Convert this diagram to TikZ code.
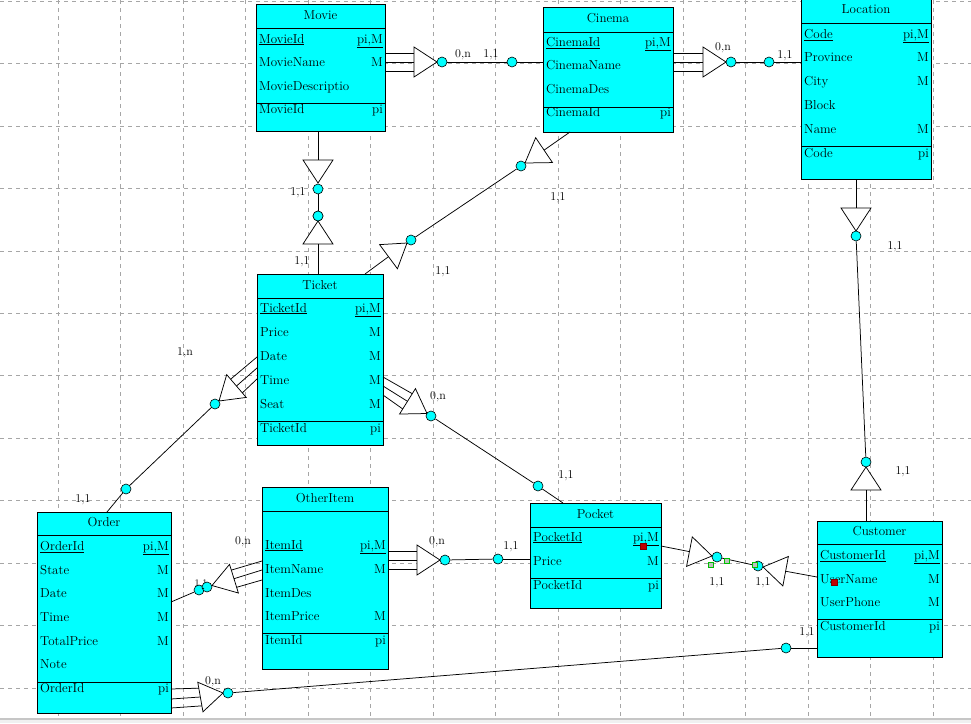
\documentclass[tikz,border=0pt]{standalone}
\usetikzlibrary{calc}
\definecolor{entcyan}{RGB}{0,255,255}
\tikzset{
 ent/.style={draw=black, fill=entcyan, line width=1pt, inner sep=0pt, outer sep=0pt, rectangle},
 atxt/.style={font=\fontsize{13}{15}\selectfont, inner sep=0pt, text height=8.8pt, text depth=2.6pt},
 lbl/.style={font=\fontsize{12}{14}\selectfont, inner sep=0pt},
 dot/.style={circle, draw=black, fill=entcyan, minimum size=10pt, inner sep=0pt, line width=0.6pt},
 con/.style={line width=0.75pt},
 tristyle/.style={draw=black, fill=white, line width=0.75pt, line join=miter},
 gridline/.style={gray!70, dash pattern=on 4pt off 4pt, line width=0.6pt},
 gmark/.style={rectangle, draw=green!75!black, fill=gray!50, minimum size=5pt, inner sep=0pt, line width=0.6pt},
 rmark/.style={rectangle, draw=red!50!black, fill=red!75!black, minimum size=6pt, inner sep=0pt, line width=0.6pt},
}
% entity: name, L, T, R, B, header bottom, separator, title
\newcommand\ent[8]{%
  \node[ent, anchor=north west, minimum width={(#4)-(#2)}, minimum height={(#5)-(#3)}] (#1) at (#2,#3) {};
  \draw[line width=1pt] (#2,#6) -- (#4,#6);
  \draw[line width=1pt] (#2,#7) -- (#4,#7);
  \node[atxt] (#1-title) at ({(#2+#4)/2},{(#3+#6)/2}) {#8};
}
% attribute row: entity, y, left text, right text, tag
\newcommand\att[5]{%
  \node[atxt, anchor=west, xshift=3pt] (#1-#5l) at (#1.west |- 0,#2) {#3};
  \node[atxt, anchor=east, xshift=-2pt] (#1-#5r) at (#1.east |- 0,#2) {#4};
}
% triangle: name, apex x, apex y, angle
\newcommand\tri[4]{%
  \begin{scope}[shift={(#2,#3)}, rotate=#4]
    \coordinate (#1-a) at (0,0);
    \coordinate (#1-b) at (-23,0);
    \coordinate (#1-p) at (-23,15);
    \coordinate (#1-q) at (-23,-15);
    \coordinate (#1-p9) at (-23,9);
    \coordinate (#1-q9) at (-23,-9);
  \end{scope}
  \draw[tristyle] (#1-a) -- (#1-p) -- (#1-q) -- cycle;
}
\begin{document}
\begin{tikzpicture}[x=1pt,y=-1pt]
\useasboundingbox (0,0) rectangle (971,723);
\fill[white] (0,0) rectangle (971,723);
% grid
\foreach \gx in {58,120.5,...,940} \draw[gridline] (\gx,0) -- (\gx,717);
\foreach \gy in {1,63.45,...,690} \draw[gridline] (0,\gy) -- (971,\gy);
\fill[gray!45] (0,717.5) rectangle (971,719.5);
\fill[gray!12] (0,719.5) rectangle (971,723);

% entities
\ent{movie}{256}{4}{385}{131}{28}{103}{Movie}
\att{movie}{40}{\underline{MovieId}}{\underline{pi,M}}{a}
\att{movie}{63}{MovieName}{M}{b}
\att{movie}{87}{MovieDescriptio}{}{c}
\att{movie}{110}{MovieId}{pi}{d}

\ent{cinema}{543}{7}{673}{132}{32}{107}{Cinema}
\att{cinema}{43}{\underline{CinemaId}}{\underline{pi,M}}{a}
\att{cinema}{66}{CinemaName}{}{b}
\att{cinema}{90}{CinemaDes}{}{c}
\att{cinema}{113}{CinemaId}{pi}{d}

\ent{location}{801}{-2}{931}{179}{23}{146}{Location}
\att{location}{35}{\underline{Code}}{\underline{pi,M}}{a}
\att{location}{58}{Province}{M}{b}
\att{location}{82}{City}{M}{c}
\att{location}{106}{Block}{}{d}
\att{location}{130}{Name}{M}{e}
\att{location}{154}{Code}{pi}{f}

\ent{ticket}{257}{274}{383}{445}{298}{421}{Ticket}
\att{ticket}{309}{\underline{TicketId}}{\underline{pi,M}}{a}
\att{ticket}{333}{Price}{M}{b}
\att{ticket}{357}{Date}{M}{c}
\att{ticket}{381}{Time}{M}{d}
\att{ticket}{405}{Seat}{M}{e}
\att{ticket}{429}{TicketId}{pi}{f}

\ent{order}{37}{512}{171}{713}{535}{682}{Order}
\att{order}{547}{\underline{OrderId}}{\underline{pi,M}}{a}
\att{order}{571}{State}{M}{b}
\att{order}{594}{Date}{M}{c}
\att{order}{618}{Time}{M}{d}
\att{order}{642}{TotalPrice}{M}{e}
\att{order}{665}{Note}{}{f}
\att{order}{689}{OrderId}{pi}{g}

\ent{otheritem}{262}{487}{388}{669}{511}{633}{OtherItem}
\att{otheritem}{546}{\underline{ItemId}}{\underline{pi,M}}{a}
\att{otheritem}{570}{ItemName}{M}{b}
\att{otheritem}{594}{ItemDes}{}{c}
\att{otheritem}{617}{ItemPrice}{M}{d}
\att{otheritem}{641}{ItemId}{pi}{e}

\ent{pocket}{530}{503}{661}{608}{527}{578}{Pocket}
\att{pocket}{538}{\underline{PocketId}}{\underline{pi,M}}{a}
\att{pocket}{562}{Price}{M}{b}
\att{pocket}{586}{PocketId}{pi}{c}

\ent{customer}{817}{521}{942}{657}{544}{619}{Customer}
\att{customer}{556}{\underline{CustomerId}}{\underline{pi,M}}{a}
\att{customer}{580}{UserName}{M}{b}
\att{customer}{603}{UserPhone}{M}{c}
\att{customer}{627}{CustomerId}{pi}{d}

% R1 Movie - Cinema
\tri{t1}{437}{62}{0}
\draw[con] (movie.east |- t1-q9) -- (t1-q9);
\draw[con] (movie.east |- t1-b) -- (t1-b);
\draw[con] (movie.east |- t1-p9) -- (t1-p9);
\node[dot] (c1a) at (442,62) {};
\node[dot] (c1b) at (512,62) {};
\draw[con] (c1a) -- (c1b);
\draw[con] (c1b) -- (cinema.west |- c1b);
\node[lbl] (l1a) at (463,55) {0,n};
\node[lbl] (l1b) at (491,55) {1,1};

% R2 Cinema - Location
\tri{t2}{726}{62}{0}
\draw[con] (cinema.east |- t2-q9) -- (t2-q9);
\draw[con] (cinema.east |- t2-b) -- (t2-b);
\draw[con] (cinema.east |- t2-p9) -- (t2-p9);
\node[dot] (c2a) at (731,62) {};
\node[dot] (c2b) at (769,62) {};
\draw[con] (c2a) -- (c2b);
\draw[con] (c2b) -- (location.west |- c2b);
\node[lbl] (l2a) at (723,48) {0,n};
\node[lbl] (l2b) at (785,56) {1,1};

% R3 Movie - Ticket
\tri{t3a}{318}{183}{-90}
\draw[con] (t3a-b |- movie.south) -- (t3a-b);
\node[dot] (c3a) at (318,189) {};
\node[dot] (c3b) at (318,216) {};
\draw[con] (c3a) -- (c3b);
\tri{t3b}{318}{221}{90}
\draw[con] (t3b-b) -- (t3b-b |- ticket.north);
\node[dot] (c3b2) at (318,216) {};
\node[lbl] (l3a) at (298,193) {1,1};
\node[lbl] (l3b) at (302,262) {1,1};

% R4 Cinema - Ticket
\tri{t4a}{525}{163}{-146}
\draw[con] (cinema.south -| 570,0) -- (t4a-b);
\node[dot] (c4a) at (521,166) {};
\tri{t4b}{407}{243}{36.5}
\draw[con] (ticket.north -| 365,0) -- (t4b-b);
\node[dot] (c4b) at (411,240) {};
\draw[con] (c4a) -- (c4b);
\node[lbl] (l4a) at (558,198) {1,1};
\node[lbl] (l4b) at (443,272) {1,1};

% R5 Location - Customer
\tri{t5a}{856}{231}{-90}
\draw[con] (t5a-b |- location.south) -- (t5a-b);
\node[dot] (c5a) at (856,236) {};
\tri{t5b}{866}{467}{90}
\draw[con] (t5b-b) -- (t5b-b |- customer.north);
\node[dot] (c5b) at (866,462) {};
\draw[con] (c5a) -- (c5b);
\node[lbl] (l5a) at (895,247) {1,1};
\node[lbl] (l5b) at (903,472) {1,1};

% R6 Ticket - Order
\tri{t6}{219}{401}{-139.4}
\draw[con] (ticket.west |- 0,357) -- (t6-p9);
\draw[con] (ticket.west |- 0,368) -- (t6-b);
\draw[con] (ticket.west |- 0,379) -- (t6-q9);
\node[dot] (c6a) at (215,404) {};
\node[dot] (c6b) at (126,489) {};
\draw[con] (c6a) -- (c6b);
\draw[con] (c6b) -- (order.north -| 107,0);
\node[lbl] (l6a) at (185,353) {1,n};
\node[lbl] (l6b) at (83,500) {1,1};

% R7 Ticket - Pocket
\tri{t7}{427}{413.5}{-32}
\draw[con] (ticket.east |- 0,377) -- (t7-q9);
\draw[con] (ticket.east |- 0,386) -- (t7-b);
\draw[con] (ticket.east |- 0,395) -- (t7-p9);
\node[dot] (c7a) at (431,416) {};
\node[dot] (c7b) at (538,486) {};
\draw[con] (c7a) -- (c7b);
\draw[con] (c7b) -- (pocket.north -| 563,0);
\node[lbl] (l7a) at (438,397) {0,n};
\node[lbl] (l7b) at (566,476) {1,1};

% R8 OtherItem - Pocket
\tri{t8}{440}{560}{0}
\draw[con] (otheritem.east |- t8-q9) -- (t8-q9);
\draw[con] (otheritem.east |- t8-b) -- (t8-b);
\draw[con] (otheritem.east |- t8-p9) -- (t8-p9);
\node[dot] (c8a) at (445,560) {};
\node[dot] (c8b) at (498,559) {};
\draw[con] (c8a) -- (c8b);
\draw[con] (c8b) -- (pocket.west |- c8b);
\node[lbl] (l8a) at (437,542) {0,n};
\node[lbl] (l8b) at (511,547) {1,1};

% R9 OtherItem - Order
\tri{t9}{212}{585.5}{-162.8}
\draw[con] (otheritem.west |- 0,561) -- (t9-p9);
\draw[con] (otheritem.west |- 0,570) -- (t9-b);
\draw[con] (otheritem.west |- 0,580) -- (t9-q9);
\node[lbl, font=\fontsize{10}{11}\selectfont] (l9b) at (201,584) {1,1};
\node[dot] (c9a) at (199,590) {};
\node[dot] (c9b) at (207,587) {};
\draw[con] (order.east |- 0,602) -- (c9a);
\draw[con] (c9a) -- (c9b);
\node[lbl] (l9a) at (243,542) {0,n};

% R10 Order - Customer
\tri{t10}{223}{693}{10}
\draw[con] (order.east |- 0,689) -- (t10-q9);
\draw[con] (order.east |- 0,699) -- (t10-b);
\draw[con] (order.east |- 0,708) -- (t10-p9);
\node[dot] (c10a) at (228,693) {};
\node[dot] (c10b) at (786,648) {};
\draw[con] (c10a) -- (c10b);
\draw[con] (c10b) -- (customer.west |- c10b);
\node[lbl] (l10a) at (213,682) {0,n};
\node[lbl] (l10b) at (807,633) {1,1};

% R11 Pocket - Customer
\tri{t11a}{712}{556}{-11}
\draw[con] (pocket.east |- 0,546) -- (t11a-b);
\node[dot] (c11a) at (717,557) {};
\tri{t11b}{763}{567}{169.4}
\draw[con] (customer.west |- 0,577) -- (t11b-b);
\node[dot] (c11b) at (758,566) {};
\draw[con] (c11a) -- (c11b);
\node[lbl] (l11a) at (717,583) {1,1};
\node[lbl] (l11b) at (763,583) {1,1};

% selection markers
\node[gmark] (g1) at (711,565) {};
\node[gmark] (g2) at (727,561) {};
\node[gmark] (g3) at (755,565) {};
\node[rmark] (r1) at (643,546) {};
\node[rmark] (r2) at (834,582) {};
\end{tikzpicture}
\end{document}
